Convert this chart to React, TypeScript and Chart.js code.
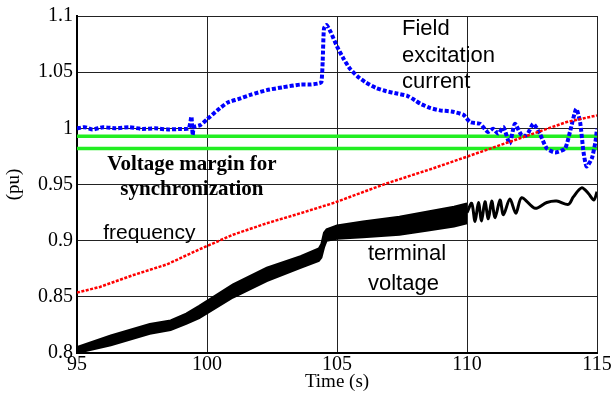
import React, { useEffect, useRef } from "react";
import { Chart, registerables } from "chart.js";

Chart.register(...registerables);

// ---- axis ticks ----
const xTicks = [95, 100, 105, 110, 115];
const yTicks = [0.8, 0.85, 0.9, 0.95, 1, 1.05, 1.1];

// ---- field excitation current (blue) ----
const fieldT = [95.0, 95.3, 95.6, 96.0, 96.5, 97.0, 97.5, 98.0, 98.5, 99.0, 99.3, 99.4, 99.45, 99.5, 99.75, 100.0, 100.5, 100.8, 101.2, 101.7, 102.3, 102.9, 103.6, 104.0, 104.3, 104.4, 104.45, 104.5, 104.6, 104.75, 105.0, 105.25, 105.5, 105.8, 106.1, 106.5, 106.9, 107.3, 107.7, 108.0, 108.2, 108.6, 108.96, 109.4, 109.86, 110.12, 110.5, 110.8, 111.0, 111.2, 111.4, 111.64, 111.84, 112.1, 112.3, 112.55, 112.8, 113.07, 113.39, 113.77, 113.96, 114.2, 114.35, 114.48, 114.6, 114.8, 114.94, 115.0];
const fieldV = [1.0, 1.001, 0.999, 1.001, 1.0, 1.001, 0.9995, 1.0, 0.999, 0.9995, 1.0, 1.0105, 0.994, 1.001, 1.003, 1.008, 1.018, 1.023, 1.026, 1.03, 1.034, 1.0365, 1.039, 1.039, 1.04, 1.041, 1.06, 1.089, 1.092, 1.086, 1.073, 1.062, 1.053, 1.046, 1.041, 1.036, 1.033, 1.031, 1.029, 1.025, 1.022, 1.018, 1.016, 1.015, 1.012, 1.0056, 1.004, 0.9968, 0.9997, 0.9953, 1.0011, 0.9864, 1.004, 0.9938, 0.9938, 1.004, 0.9953, 0.982, 0.9785, 0.982, 0.9968, 1.0173, 1.0056, 0.9791, 0.966, 0.9732, 0.988, 0.9997];

// ---- frequency (red) ----
const freqT = [95.0, 95.88, 97.17, 98.45, 99.73, 101.0, 102.3, 103.58, 104.86, 106.9, 108.7, 109.99, 111.27, 112.55, 113.83, 115.0];
const freqV = [0.8538, 0.8588, 0.8694, 0.8788, 0.8925, 0.9053, 0.9155, 0.9243, 0.9335, 0.9509, 0.9644, 0.9747, 0.985, 0.9953, 1.0056, 1.0115];

// ---- terminal voltage (black) band 95-110 ----
const termBandT = [95.0, 96.3, 97.8, 98.6, 99.2, 99.7, 101.0, 102.3, 103.6, 104.3, 104.4, 104.5, 104.6, 105.0, 106.0, 107.4, 108.5, 109.5, 110.0];
const termUpper = [0.8053, 0.8156, 0.8259, 0.829, 0.835, 0.842, 0.8612, 0.876, 0.8862, 0.893, 0.897, 0.907, 0.91, 0.9135, 0.917, 0.9214, 0.926, 0.9303, 0.9332];
const termLower = [0.8, 0.8068, 0.8171, 0.8205, 0.826, 0.831, 0.8494, 0.8641, 0.8759, 0.882, 0.885, 0.894, 0.9, 0.9018, 0.903, 0.9053, 0.909, 0.9126, 0.9155];

// ---- terminal voltage (black) oscillation 110-115 ----
const termT = [110.0, 110.18, 110.31, 110.44, 110.56, 110.69, 110.82, 110.95, 111.08, 111.27, 111.4, 111.65, 111.88, 112.1, 112.62, 113.07, 113.45, 113.9, 114.09, 114.41, 114.67, 114.88, 115.0];
const termV = [0.925, 0.9332, 0.917, 0.934, 0.9176, 0.9347, 0.9194, 0.9353, 0.9205, 0.9362, 0.923, 0.937, 0.9243, 0.9382, 0.9288, 0.934, 0.9353, 0.9323, 0.939, 0.947, 0.942, 0.9362, 0.9435];

// ---- voltage margin (green) ----
const marginLevels = [0.993, 0.982];

const pts = (t: number[], v: number[]) => t.map((x, i) => ({ x, y: v[i] }));

const annotations = [
  { text: "Field", x: 107.5, y: 1.0885, font: '22px "Liberation Sans"', align: "left" },
  { text: "excitation", x: 107.5, y: 1.0647, font: '22px "Liberation Sans"', align: "left" },
  { text: "current", x: 107.5, y: 1.0409, font: '22px "Liberation Sans"', align: "left" },
  { text: "terminal", x: 106.19, y: 0.8882, font: '22px "Liberation Sans"', align: "left" },
  { text: "voltage", x: 106.19, y: 0.8618, font: '22px "Liberation Sans"', align: "left" },
  { text: "frequency", x: 96.01, y: 0.907, font: '21px "Liberation Sans"', align: "left" },
  { text: "Voltage margin for", x: 99.42, y: 0.9676, font: 'bold 21px "Liberation Serif"', align: "center" },
  { text: "synchronization", x: 99.42, y: 0.9456, font: 'bold 21px "Liberation Serif"', align: "center" },
];

const textPlugin = {
  id: "textLabels",
  afterDatasetsDraw(chart: any) {
    const { ctx, scales } = chart;
    ctx.save();
    ctx.fillStyle = "#000";
    ctx.textBaseline = "middle";
    for (const a of annotations) {
      ctx.font = a.font;
      ctx.textAlign = a.align;
      ctx.fillText(a.text, scales.x.getPixelForValue(a.x), scales.y.getPixelForValue(a.y));
    }
    ctx.restore();
  },
};

export default function App() {
  const ref = useRef<HTMLCanvasElement>(null);
  useEffect(() => {
    if (!ref.current) return;
    const serif = '"Liberation Serif", "Times New Roman", serif';
    const chart = new Chart(ref.current, {
      type: "scatter",
      data: {
        datasets: [
          {
            label: "terminal upper",
            data: pts(termBandT, termUpper),
            showLine: true,
            borderColor: "#000",
            backgroundColor: "#000",
            borderWidth: 2,
            pointRadius: 0,
            fill: "+1",
            order: 5,
          },
          {
            label: "terminal lower",
            data: pts(termBandT, termLower),
            showLine: true,
            borderColor: "#000",
            borderWidth: 2,
            pointRadius: 0,
            fill: false,
            order: 5,
          },
          {
            label: "terminal voltage",
            data: pts(termT, termV),
            showLine: true,
            borderColor: "#000",
            borderWidth: 3,
            pointRadius: 0,
            tension: 0.3,
            fill: false,
            order: 5,
          },
          ...marginLevels.map((lv) => ({
            label: "margin",
            data: [{ x: 95, y: lv }, { x: 115, y: lv }],
            showLine: true,
            borderColor: "#22ee22",
            borderWidth: 3.5,
            pointRadius: 0,
            fill: false,
            order: 4,
          })),
          {
            label: "frequency",
            data: pts(freqT, freqV),
            showLine: true,
            borderColor: "#ff0000",
            borderWidth: 2.5,
            borderDash: [3, 1.5],
            pointRadius: 0,
            fill: false,
            order: 2,
          },
          {
            label: "field current",
            data: pts(fieldT, fieldV),
            showLine: true,
            borderColor: "#0000ff",
            borderWidth: 4,
            borderDash: [4, 2],
            pointRadius: 0,
            tension: 0.2,
            fill: false,
            order: 3,
          },
        ],
      },
      options: {
        animation: false,
        responsive: false,
        layout: { padding: { top: 13, right: 15, left: 0, bottom: 0 } },
        plugins: { legend: { display: false }, tooltip: { enabled: false } },
        scales: {
          x: {
            type: "linear",
            min: 95,
            max: 115,
            afterBuildTicks: (s: any) => {
              s.ticks = xTicks.map((v) => ({ value: v }));
            },
            afterFit: (s: any) => {
              s.height = 47;
            },
            ticks: {
              color: "#000",
              font: { family: serif, size: 20 },
              padding: 0,
              maxRotation: 0,
              callback: (v: any) => String(v),
            },
            grid: { color: "#222", lineWidth: 1, drawTicks: false },
            border: { color: "#000", width: 2 },
            title: {
              display: true,
              text: "Time (s)",
              color: "#000",
              font: { family: serif, size: 19 },
              padding: { top: 0, bottom: 7 },
            },
          },
          y: {
            type: "linear",
            min: 0.8,
            max: 1.1,
            afterBuildTicks: (s: any) => {
              s.ticks = yTicks.map((v) => ({ value: v }));
            },
            afterFit: (s: any) => {
              s.width = 77;
            },
            ticks: {
              color: "#000",
              font: { family: serif, size: 20 },
              padding: 4,
              callback: (v: any) => String(v),
            },
            grid: { color: "#222", lineWidth: 1, drawTicks: false },
            border: { color: "#000", width: 2 },
            title: {
              display: true,
              text: "(pu)",
              color: "#000",
              font: { family: serif, size: 19 },
              padding: { top: 3, bottom: 0 },
            },
          },
        },
      },
      plugins: [textPlugin],
    } as any);
    return () => chart.destroy();
  }, []);
  return (
    <div style={{ position: "fixed", left: 0, top: 0, width: 612, height: 400, background: "#fff" }}>
      <canvas ref={ref} width={612} height={400} />
    </div>
  );
}
